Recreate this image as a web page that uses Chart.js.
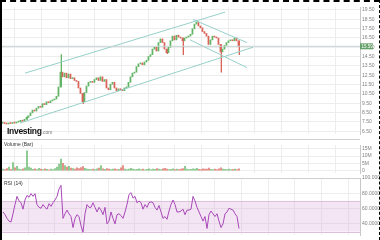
<!DOCTYPE html>
<html><head><meta charset="utf-8">
<script src="https://cdn.jsdelivr.net/npm/chart.js@4"></script>
<style>
html,body{margin:0;padding:0;background:#fff;width:380px;height:240px;overflow:hidden;font-family:"Liberation Sans",Arial,sans-serif}
#wrap{position:relative;width:380px;height:240px;overflow:hidden}
canvas{position:absolute}
.lbl{position:absolute;font-size:5px;color:#333;white-space:nowrap;line-height:6px}
#logo{position:absolute;left:7px;top:126px;font-size:8.5px;font-weight:bold;color:#111;letter-spacing:-0.3px;line-height:10px}
#logo span{font-size:5px;font-weight:normal;color:#777;letter-spacing:0}
#bl{position:absolute;left:0;top:0;width:2px;height:240px;background:#000}
#bt{position:absolute;left:0;top:0;width:380px;height:0;border-top:2px dashed #000}
#br{position:absolute;right:0;top:0;width:0;height:240px;border-right:1px dashed #000}
.sep{position:absolute;left:2px;width:358px;height:1px;background:#cfcfcf}
</style></head><body>
<div id="wrap">
<canvas id="cp" width="378" height="137" style="left:2px;top:2px"></canvas>
<canvas id="cv" width="378" height="38" style="left:2px;top:140px"></canvas>
<canvas id="cr" width="378" height="68" style="left:2px;top:172px"></canvas>
<div class="sep" style="top:139px"></div>
<div class="sep" style="top:178px"></div>
<div id="logo">Investing<span>.com</span></div>
<div class="lbl" style="left:4px;top:141px">Volume (Bar)</div>
<div class="lbl" style="left:4px;top:180px">RSI (14)</div>
<div id="bl"></div><div id="bt"></div><div id="br"></div>
</div>
<script>
// ---- data ----
const closes = [7.37,7.32,7.27,7.37,7.32,7.42,7.37,7.47,7.52,7.67,
7.57,7.77,7.97,8.16,8.46,8.76,8.66,8.96,9.15,9.06,
9.45,9.35,9.65,9.55,9.75,9.85,9.95,10.24,11.23,12.82,
12.32,12.72,12.22,12.62,12.13,12.22,11.93,11.83,11.13,10.54,
9.65,10.64,11.33,11.73,11.83,11.73,12.03,12.22,11.93,12.32,
11.83,12.03,11.13,10.94,11.53,11.73,11.13,10.84,11.03,10.94,
10.84,11.13,11.23,11.73,12.32,12.72,12.82,13.41,13.71,13.81,
13.61,13.91,14.10,14.50,14.70,15.29,15.49,15.09,15.99,16.38,
15.99,15.29,14.90,15.49,16.18,16.68,16.28,16.78,16.58,16.48,
16.18,16.48,16.58,16.68,16.88,17.47,17.97,18.17,17.77,17.57,
17.17,16.97,16.68,15.79,16.28,16.68,16.58,16.48,15.79,14.99,
15.29,15.69,15.99,16.18,16.28,16.18,16.48,16.18,15.59];
// wicks: [day, low, high]
const wicks = [[29,11.23,14.70],[40,9.45,10.54],[90,14.70,16.48],[109,12.82,15.79],[118,14.70,16.18],[82,14.80,15.29],[12,7.77,8.06]];
const volumes = [1.2,0.8,1.5,2.5,1.0,5.5,2.0,3.0,1.2,0.9,
1.4,2.0,13.5,2.5,1.8,1.0,1.4,0.9,1.6,1.1,
0.8,1.3,1.0,0.7,1.2,0.9,1.5,2.5,4.5,8.0,
5.0,3.5,2.5,3.0,1.8,1.5,1.2,2.0,1.5,2.2,
2.8,1.6,1.2,1.0,0.9,1.1,0.8,1.4,1.8,3.5,
1.3,1.0,1.5,1.2,0.9,1.1,1.3,0.8,1.0,2.0,
3.5,1.2,0.9,1.1,1.6,1.2,0.8,1.0,1.4,0.9,
1.1,0.7,1.0,1.3,0.8,1.2,1.0,1.5,1.1,0.9,
1.3,1.7,1.2,0.9,1.0,1.4,0.8,1.1,0.9,1.2,
1.5,3.0,1.2,0.8,1.0,1.4,1.2,1.6,1.0,0.9,
1.3,1.1,1.2,1.8,1.0,0.9,1.1,0.8,1.3,2.0,
1.2,1.0,0.9,1.1,0.8,1.0,1.2,0.9,1.4];
const rsi = [55.7,52.1,47.3,43.7,42.5,53.3,65.3,76.0,70.1,67.7,
59.3,71.3,77.2,74.9,79.6,76.0,79.6,65.3,61.7,60.5,
65.3,61.7,59.3,66.5,62.9,67.7,71.3,76.0,85.6,90.4,
47.3,53.3,58.1,53.3,49.7,35.3,47.3,52.1,49.7,37.7,
29.3,53.3,65.3,61.7,61.7,67.7,61.7,55.7,61.7,58.1,
52.1,61.7,40.1,43.7,55.7,47.3,40.1,52.1,53.3,50.9,
47.3,55.7,65.3,78.4,80.8,73.7,76.0,67.7,70.1,67.7,
59.3,65.3,61.7,67.7,68.9,67.7,61.7,58.1,64.1,55.7,
47.3,49.7,46.1,56.9,65.3,71.3,65.3,55.7,55.7,56.9,
59.3,52.1,58.1,58.1,59.3,76.0,70.1,61.7,55.7,49.7,
43.7,49.7,34.1,52.1,56.9,53.3,49.7,53.3,43.7,35.3,
40.1,53.3,55.7,60.5,59.3,58.1,53.3,49.7,34.1];
// trend lines drawn on the chart: [day, price] end points
const trendAscUpper = [[11,12.72],[111,19.25]];
const trendAscLower = [[8.5,7.37],[125,15.49]];
const trendDescUpper = [[95,18.46],[122,15.99]];
const trendDescLower = [[93.5,16.28],[122,13.31]];
const priceTicks = [6.5,7.5,8.5,9.5,10.5,11.5,12.5,13.5,14.5,15.5,16.5,17.5,18.5,19.5];
const volumeTicks = [0,5,10,15];
const volumeTickLabels = ['0','5M','10M','15M'];
const rsiTicks = [40,60,80,100];
const rsiBand = [30,70];

// ---- styling ----
const UP='#62b566', DOWN='#d9645a', GRID='#ededed', AXIS='#c8c8c8', TICK='#808080';
const X_MIN=-0.5, X_MAX=178.5, GRID_START=12.5, GRID_STEP=13.35;
const tickFont={family:'Liberation Sans',size:5};
const gridVals=[]; for(let v=GRID_START; v<X_MAX; v+=GRID_STEP) gridVals.push(v);
const last = closes[closes.length-1];
const col = closes.map((c,i)=> (i===0 || c>=closes[i-1]) ? UP : DOWN);

function xScale(){
  return {type:'linear',min:X_MIN,max:X_MAX,offset:false,
    afterBuildTicks:s=>{s.ticks=gridVals.map(v=>({value:v}));},
    ticks:{display:false},border:{display:false},
    grid:{color:GRID,drawTicks:false,lineWidth:1}};
}
function yRight(min,max,vals,fmt){
  return {type:'linear',position:'right',min,max,
    afterBuildTicks:s=>{s.ticks=vals.map(v=>({value:v}));},
    afterFit:s=>{s.width=20;},
    ticks:{font:tickFont,color:TICK,padding:2,callback:fmt,autoSkip:false,maxRotation:0},
    border:{display:true,color:AXIS},
    grid:{color:GRID,drawTicks:false}};
}
const base={responsive:false,animation:false,events:[],
  plugins:{legend:{display:false},tooltip:{enabled:false}}};
function line(pts,color){
  return {type:'line',data:pts.map(p=>({x:p[0],y:p[1]})),borderColor:color,borderWidth:1,pointRadius:0,fill:false,order:0};
}

const priceLabel={id:'priceLabel',afterDraw(ch){
  const y=ch.scales.y.getPixelForValue(last), x=ch.chartArea.right, c=ch.ctx;
  c.save(); c.fillStyle='#65a06a'; c.fillRect(x,y-3,13,6);
  c.fillStyle='#fff'; c.font='4.5px Liberation Sans'; c.textBaseline='middle';
  c.fillText(last.toFixed(2),x+1.5,y+0.3); c.restore();
}};

new Chart(document.getElementById('cp'),{
  type:'bar',
  data:{datasets:[
    {type:'bar',data:closes.map((c,i)=>({x:i,y:[i?closes[i-1]:c,c]})),backgroundColor:col,borderWidth:0,barThickness:1.1,minBarLength:1,order:2},
    {type:'bar',data:wicks.map(w=>({x:w[0],y:[w[1],w[2]]})),backgroundColor:wicks.map(w=>col[w[0]]),borderWidth:0,barThickness:0.7,order:3},
    line([[X_MIN,last],[X_MAX,last]],'#c5d3d3'),
    line(trendAscUpper,'#97d0ca'),line(trendAscLower,'#97d0ca'),
    line(trendDescUpper,'#97d0ca'),line(trendDescLower,'#97d0ca')
  ]},
  options:{...base,layout:{padding:0},
    scales:{x:xScale(),y:yRight(6.2,19.8,priceTicks,v=>v.toFixed(2))}},
  plugins:[priceLabel]
});

new Chart(document.getElementById('cv'),{
  type:'bar',
  data:{datasets:[{data:volumes.map((v,i)=>({x:i,y:v})),backgroundColor:col.map(c=>c===UP?'rgba(98,181,102,0.8)':'rgba(217,100,90,0.8)'),borderWidth:0,barThickness:1.1}]},
  options:{...base,layout:{padding:0},
    scales:{x:xScale(),y:yRight(-1.5,17.5,volumeTicks,(v,i)=>volumeTickLabels[i])}}
});

const band={id:'band',beforeDatasetsDraw(ch){
  const a=ch.chartArea,y=ch.scales.y,c=ch.ctx;
  const y1=y.getPixelForValue(rsiBand[1]), y0=y.getPixelForValue(rsiBand[0]);
  c.save(); c.fillStyle='rgba(214,170,214,0.3)'; c.fillRect(a.left,y1,a.right-a.left,y0-y1);
  c.strokeStyle='#dcc0dc'; c.lineWidth=1; c.beginPath();
  c.moveTo(a.left,Math.round(y1)+0.5); c.lineTo(a.right,Math.round(y1)+0.5);
  c.moveTo(a.left,Math.round(y0)+0.5); c.lineTo(a.right,Math.round(y0)+0.5); c.stroke(); c.restore();
}};
new Chart(document.getElementById('cr'),{
  type:'line',
  data:{datasets:[{data:rsi.map((v,i)=>({x:i,y:v})),borderColor:'#a848b8',borderWidth:1,pointRadius:0,tension:0,fill:false}]},
  options:{...base,layout:{padding:{top:6}},
    scales:{x:xScale(),y:yRight(25.6,100,rsiTicks,v=>v.toFixed(4))}},
  plugins:[band]
});
</script>
</body></html>
